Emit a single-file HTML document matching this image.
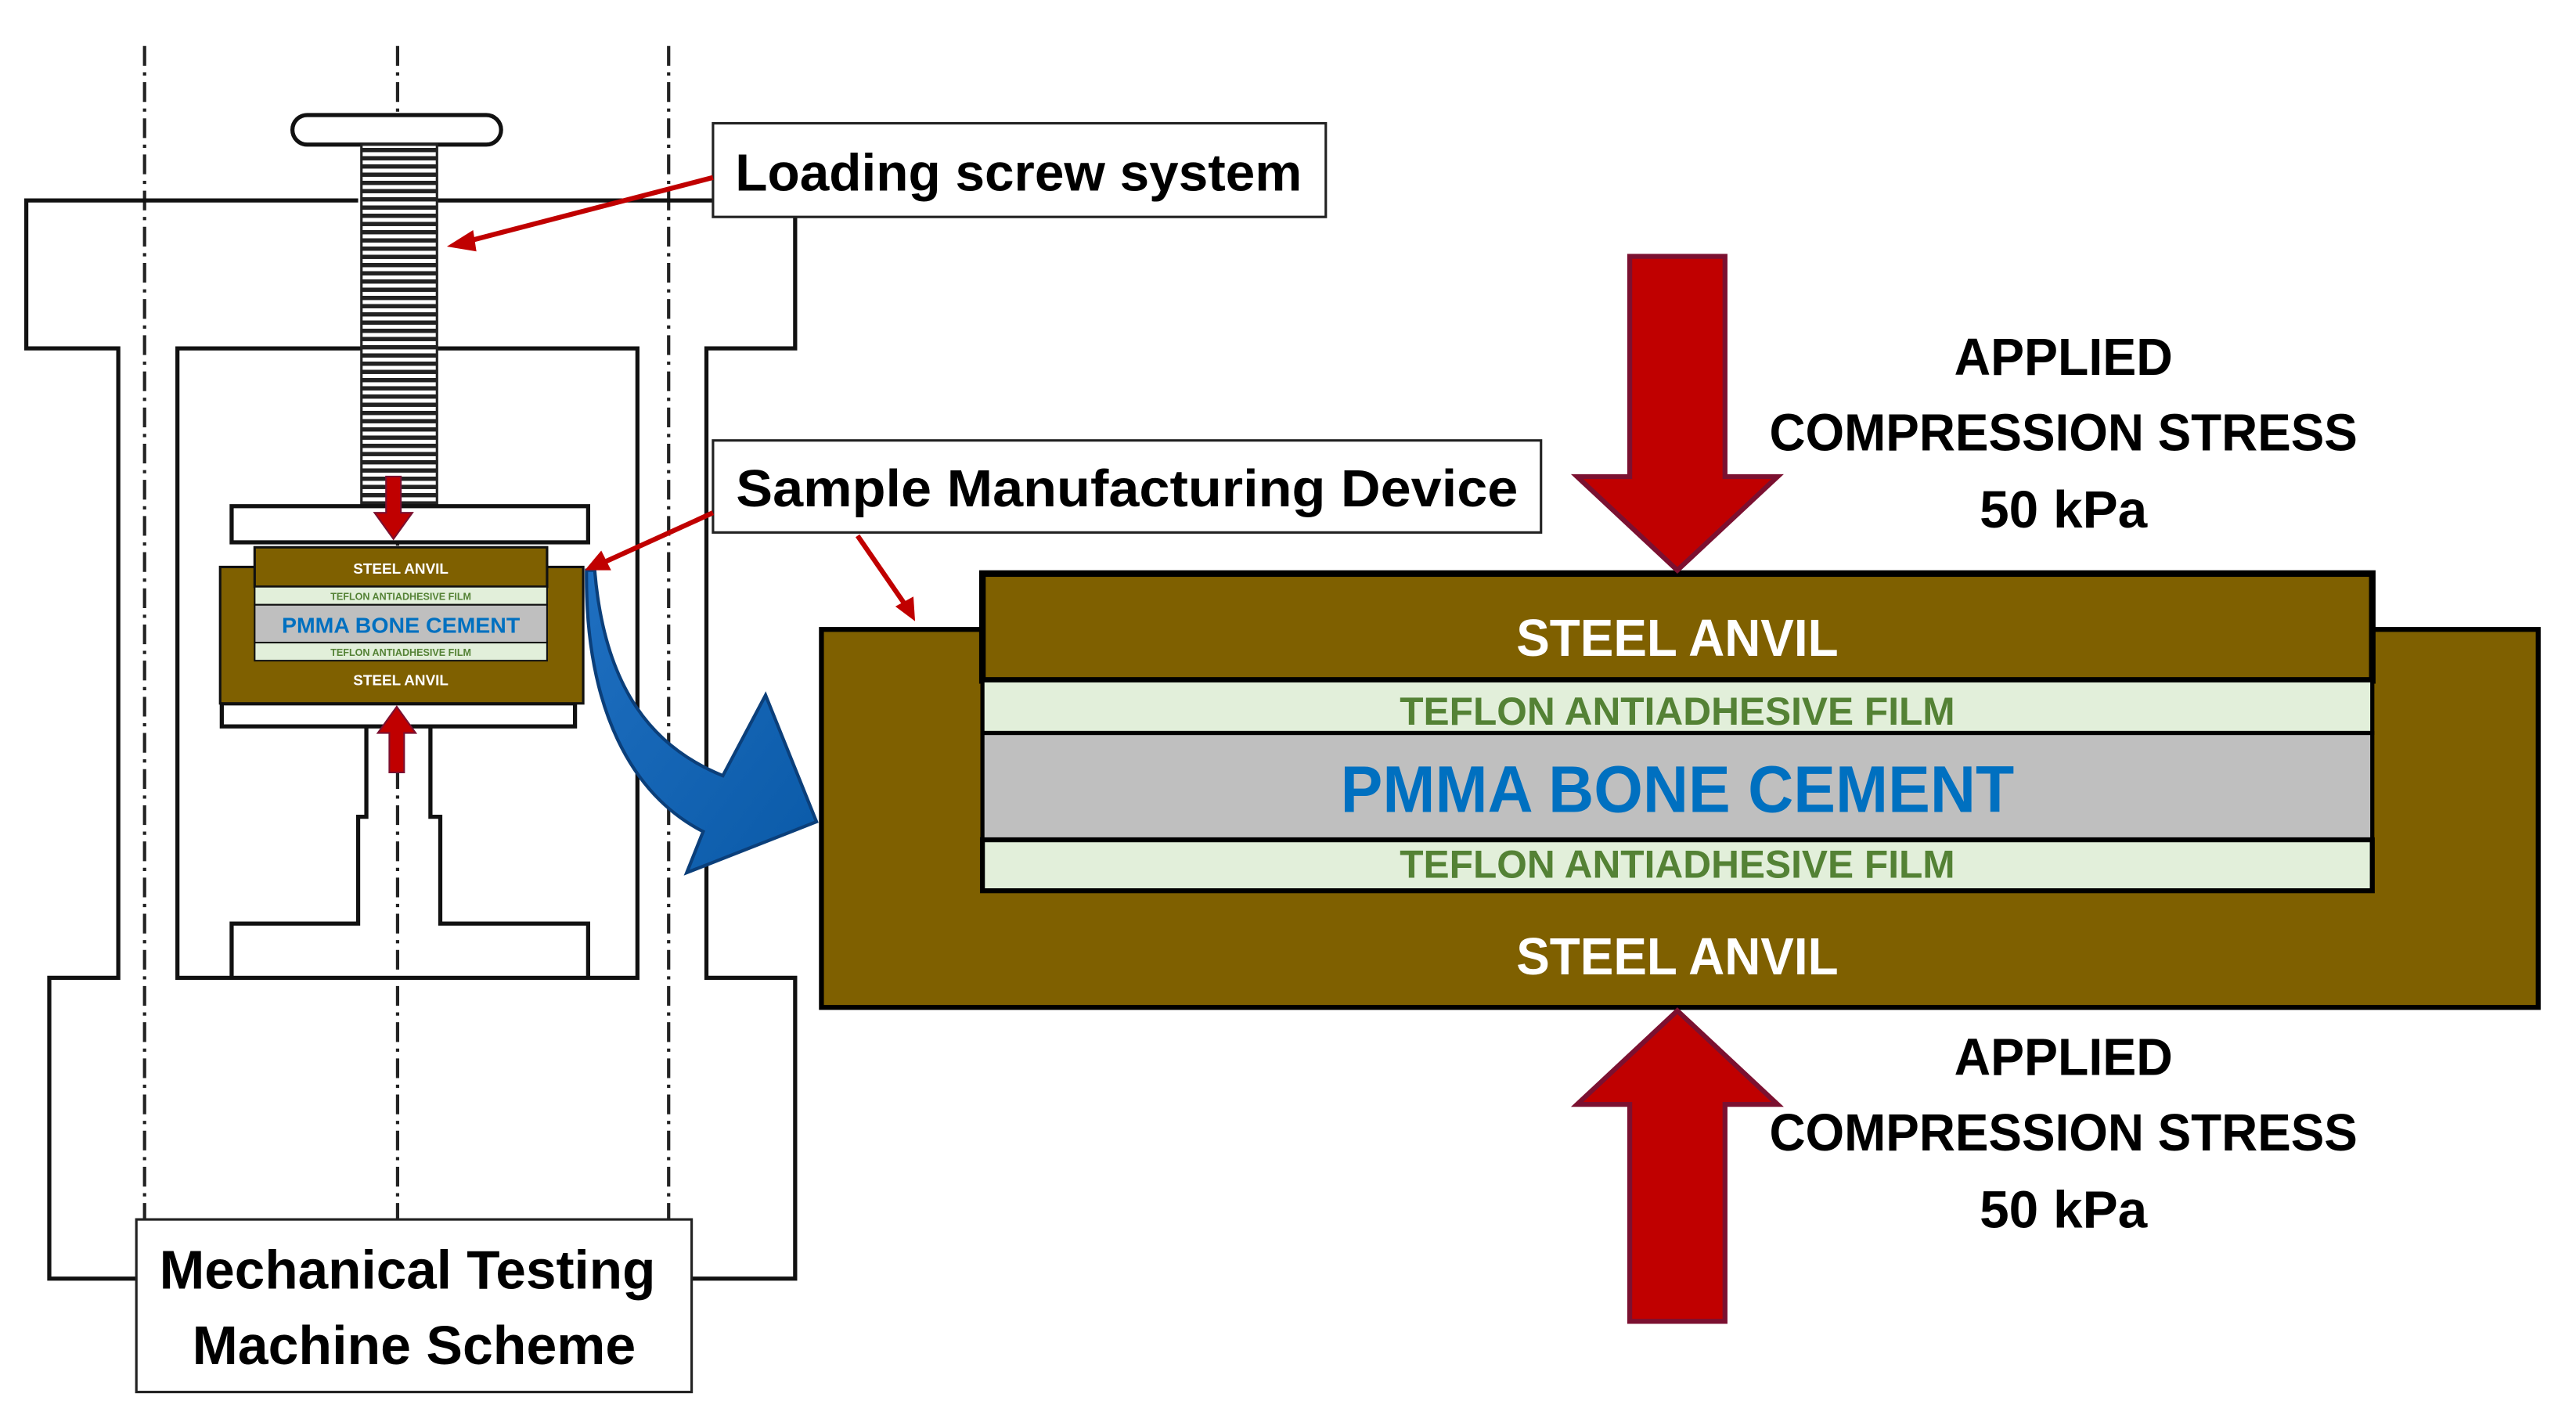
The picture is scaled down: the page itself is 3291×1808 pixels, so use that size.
<!DOCTYPE html>
<html><head><meta charset="utf-8"><style>
html,body{margin:0;padding:0;background:#fff;}
svg{display:block;}
text{font-family:"Liberation Sans Narrow","Liberation Sans",sans-serif;font-weight:bold;}
</style></head><body>
<svg width="3291" height="1808" viewBox="0 0 1568 861" preserveAspectRatio="none" xmlns="http://www.w3.org/2000/svg">
<defs>
<linearGradient id="bl" x1="0" y1="0" x2="1" y2="1"><stop offset="0" stop-color="#1f6fc0"/><stop offset="1" stop-color="#0a5aa8"/></linearGradient>
<pattern id="thr" width="10" height="5" patternUnits="userSpaceOnUse"><rect width="10" height="5" fill="#fff"/><rect width="10" height="2.6" fill="#222"/></pattern>
</defs>
<g stroke="#222" stroke-width="2" stroke-dasharray="12,4,2,4" fill="none">
<line x1="88" y1="28" x2="88" y2="742"/>
<line x1="242" y1="28" x2="242" y2="742"/>
<line x1="407" y1="28" x2="407" y2="742"/>
</g>
<g stroke="#111" stroke-width="2.5" fill="none">
<polyline points="218,122 16,122 16,212 72,212 72,595 30,595 30,778 83,778"/>
<polyline points="266,122 484,122 484,212 430,212 430,595 484,595 484,778 421,778"/>
<rect x="108" y="212" width="280" height="383"/>
<polyline points="141,595 141,562 218,562 218,497 223,497 223,442"/>
<polyline points="358,595 358,562 268,562 268,497 262,497 262,442"/>
</g>
<rect x="178" y="70" width="127" height="18" rx="9" fill="#fff" stroke="#111" stroke-width="2.5"/>
<rect x="220" y="88" width="46" height="220" fill="url(#thr)" stroke="#222" stroke-width="1.5"/>
<rect x="141" y="308" width="217" height="22" fill="#fff" stroke="#111" stroke-width="2.5"/>
<rect x="135" y="428" width="215" height="14" fill="#fff" stroke="#111" stroke-width="2.5"/>
<rect x="134" y="345" width="221" height="83" fill="#7f6000" stroke="#111" stroke-width="1.5"/>
<rect x="155" y="333" width="178" height="24" fill="#7f6000" stroke="#111" stroke-width="1.5"/>
<rect x="155" y="357" width="178" height="11" fill="#e2efda" stroke="#111" stroke-width="1"/>
<rect x="155" y="368" width="178" height="23" fill="#bfbfbf" stroke="#111" stroke-width="1"/>
<rect x="155" y="391" width="178" height="11" fill="#e2efda" stroke="#111" stroke-width="1"/>
<text x="244" y="349" font-size="9" fill="#fff" text-anchor="middle">STEEL  ANVIL</text>
<text x="244" y="365" font-size="6" fill="#548235" text-anchor="middle">TEFLON ANTIADHESIVE FILM</text>
<text x="244" y="385" font-size="13" fill="#0070c0" text-anchor="middle" textLength="145" lengthAdjust="spacingAndGlyphs">PMMA BONE CEMENT</text>
<text x="244" y="399" font-size="6" fill="#548235" text-anchor="middle">TEFLON ANTIADHESIVE FILM</text>
<text x="244" y="417" font-size="9" fill="#fff" text-anchor="middle">STEEL  ANVIL</text>
<path d="M235,290 L244,290 L244,312 L251,312 L239.5,328 L228,312 L235,312 Z" fill="#c00000" stroke="#7b1030" stroke-width="1"/>
<path d="M237,470 L246,470 L246,446 L253,446 L241.5,430 L230,446 L237,446 Z" fill="#c00000" stroke="#7b1030" stroke-width="1"/>
<path d="M362,347 C368,420 398,455 440,472 L466,423 L497,500 L418,531 L428,506 C385,484 356,432 357,347 Z" fill="url(#bl)" stroke="#0b3f7a" stroke-width="2"/>
<rect x="434" y="75" width="373" height="57" fill="#fff" stroke="#222" stroke-width="1.5"/>
<text x="620" y="116" font-size="32" fill="#000" text-anchor="middle" style="font-family:'Liberation Sans',sans-serif" textLength="345" lengthAdjust="spacingAndGlyphs">Loading screw system</text>
<rect x="434" y="268" width="504" height="56" fill="#fff" stroke="#222" stroke-width="1.5"/>
<text x="686" y="308" font-size="32" fill="#000" text-anchor="middle" style="font-family:'Liberation Sans',sans-serif" textLength="476" lengthAdjust="spacingAndGlyphs">Sample Manufacturing Device</text>
<rect x="83" y="742" width="338" height="105" fill="#fff" stroke="#222" stroke-width="1.5"/>
<text x="248" y="784" font-size="33" fill="#000" text-anchor="middle" style="font-family:'Liberation Sans',sans-serif" textLength="302" lengthAdjust="spacingAndGlyphs">Mechanical Testing</text>
<text x="252" y="830" font-size="33" fill="#000" text-anchor="middle" style="font-family:'Liberation Sans',sans-serif" textLength="270" lengthAdjust="spacingAndGlyphs">Machine Scheme</text>
<g stroke="#c00000" stroke-width="3" fill="#c00000">
<line x1="434" y1="108" x2="284" y2="147"/>
<polygon points="272,150 288,140 290,153" stroke="none"/>
<line x1="434" y1="312" x2="368" y2="342"/>
<polygon points="356,347 366,335 372,347" stroke="none"/>
<line x1="522" y1="326" x2="551" y2="368"/>
<polygon points="557,378 545,369 556,363" stroke="none"/>
</g>
<rect x="500" y="383" width="1045" height="230" fill="#7f6000" stroke="#000" stroke-width="3"/>
<rect x="598" y="349" width="846" height="65" fill="#7f6000" stroke="#000" stroke-width="4"/>
<rect x="598" y="414" width="846" height="32" fill="#e2efda" stroke="#000" stroke-width="2.5"/>
<rect x="598" y="446" width="846" height="65" fill="#bfbfbf" stroke="#000" stroke-width="2.5"/>
<rect x="598" y="511" width="846" height="31" fill="#e2efda" stroke="#000" stroke-width="3"/>
<text x="1021" y="399" font-size="32" fill="#fff" text-anchor="middle" textLength="196" lengthAdjust="spacingAndGlyphs">STEEL ANVIL</text>
<text x="1021" y="441" font-size="24" fill="#548235" text-anchor="middle" textLength="338" lengthAdjust="spacingAndGlyphs">TEFLON ANTIADHESIVE FILM</text>
<text x="1021" y="494" font-size="40" fill="#0070c0" text-anchor="middle" textLength="410" lengthAdjust="spacingAndGlyphs">PMMA BONE CEMENT</text>
<text x="1021" y="534" font-size="24" fill="#548235" text-anchor="middle" textLength="338" lengthAdjust="spacingAndGlyphs">TEFLON ANTIADHESIVE FILM</text>
<text x="1021" y="593" font-size="32" fill="#fff" text-anchor="middle" textLength="196" lengthAdjust="spacingAndGlyphs">STEEL ANVIL</text>
<path d="M992,156 L1050,156 L1050,290 L1082,290 L1021,347 L960,290 L992,290 Z" fill="#c00000" stroke="#7b1030" stroke-width="3"/>
<path d="M992,804 L1050,804 L1050,672 L1082,672 L1021,615 L960,672 L992,672 Z" fill="#c00000" stroke="#7b1030" stroke-width="3"/>
<g font-size="32" fill="#000" text-anchor="middle">
<text x="1256" y="228" textLength="133" lengthAdjust="spacingAndGlyphs">APPLIED</text>
<text x="1256" y="274" textLength="358" lengthAdjust="spacingAndGlyphs">COMPRESSION STRESS</text>
<text x="1256" y="321" textLength="102" lengthAdjust="spacingAndGlyphs">50 kPa</text>
<text x="1256" y="654" textLength="133" lengthAdjust="spacingAndGlyphs">APPLIED</text>
<text x="1256" y="700" textLength="358" lengthAdjust="spacingAndGlyphs">COMPRESSION STRESS</text>
<text x="1256" y="747" textLength="102" lengthAdjust="spacingAndGlyphs">50 kPa</text>
</g>
</svg>
</body></html>
